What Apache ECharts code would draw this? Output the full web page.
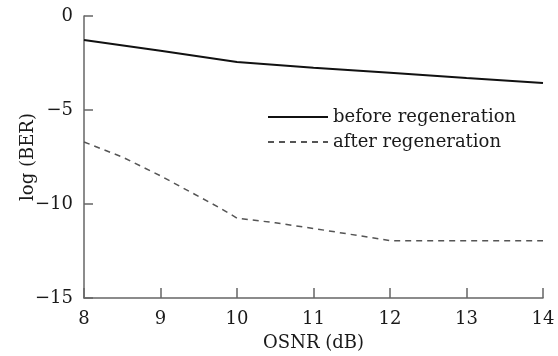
<!DOCTYPE html>
<html>
<head>
<meta charset="utf-8">
<script src="https://cdn.jsdelivr.net/npm/echarts@6/dist/echarts.min.js"></script>
<style>html,body{margin:0;padding:0;background:#fff}#c{width:558px;height:356px}</style>
</head>
<body>
<div id="c"></div>
<script>
const beforeX = [8, 9, 10, 11, 12, 13, 14];
const beforeY = [-1.28, -1.85, -2.45, -2.75, -3.02, -3.3, -3.56];
const afterX = [8, 8.5, 9, 9.5, 9.75, 10, 10.5, 11, 12, 13, 14];
const afterY = [-6.7, -7.5, -8.5, -9.6, -10.15, -10.75, -11.0, -11.3, -11.95, -11.95, -11.95];
const xTicks = [8, 9, 10, 11, 12, 13, 14];
const yTicks = [-15, -10, -5, 0];
const seriesNames = ['before regeneration', 'after regeneration'];

const font = 'DejaVu Serif';
const chart = echarts.init(document.getElementById('c'));
const pairs = (xs, ys) => xs.map((x, i) => [x, ys[i]]);
chart.setOption({
  animation: false,
  backgroundColor: '#fff',
  grid: {left: 84, right: 15, top: 16, bottom: 58, outerBoundsMode: 'none', containLabel: false},
  legend: {
    left: 262, top: 103, orient: 'vertical',
    itemWidth: 60, itemHeight: 14, itemGap: 7,
    itemStyle: {opacity: 0},
    textStyle: {fontFamily: font, fontSize: 18, color: '#1a1a1a'},
    data: seriesNames
  },
  xAxis: {
    type: 'value', min: xTicks[0], max: xTicks[xTicks.length - 1], interval: 1,
    name: 'OSNR (dB)', nameLocation: 'middle', nameGap: 36, nameMoveOverlap: false,
    nameTextStyle: {fontFamily: font, fontSize: 18, color: '#1a1a1a'},
    axisLine: {onZero: false, lineStyle: {color: '#666', width: 1.5}},
    axisTick: {inside: true, length: 10, lineStyle: {color: '#666', width: 1.5}},
    axisLabel: {fontFamily: font, fontSize: 18, color: '#1a1a1a', margin: 12},
    splitLine: {show: false}
  },
  yAxis: {
    type: 'value', min: yTicks[0], max: yTicks[yTicks.length - 1], interval: 5,
    name: 'log (BER)', nameLocation: 'middle', nameGap: 47, nameRotate: 90, nameMoveOverlap: false,
    nameTextStyle: {fontFamily: font, fontSize: 18, color: '#1a1a1a'},
    axisLine: {show: true, onZero: false, lineStyle: {color: '#666', width: 1.5}},
    axisTick: {show: true, inside: true, length: 9, lineStyle: {color: '#666', width: 1.5}},
    axisLabel: {fontFamily: font, fontSize: 18, color: '#1a1a1a', margin: 11,
      formatter: v => String(v).replace('-', '\u2212')},
    splitLine: {show: false}
  },
  series: [
    {name: seriesNames[0], type: 'line', symbol: 'none', data: pairs(beforeX, beforeY),
     lineStyle: {color: '#111', width: 2}, itemStyle: {color: '#111'}},
    {name: seriesNames[1], type: 'line', symbol: 'none', data: pairs(afterX, afterY),
     lineStyle: {color: '#555', width: 1.5, type: [6, 5]}, itemStyle: {color: '#555'}}
  ]
});
</script>
</body>
</html>
